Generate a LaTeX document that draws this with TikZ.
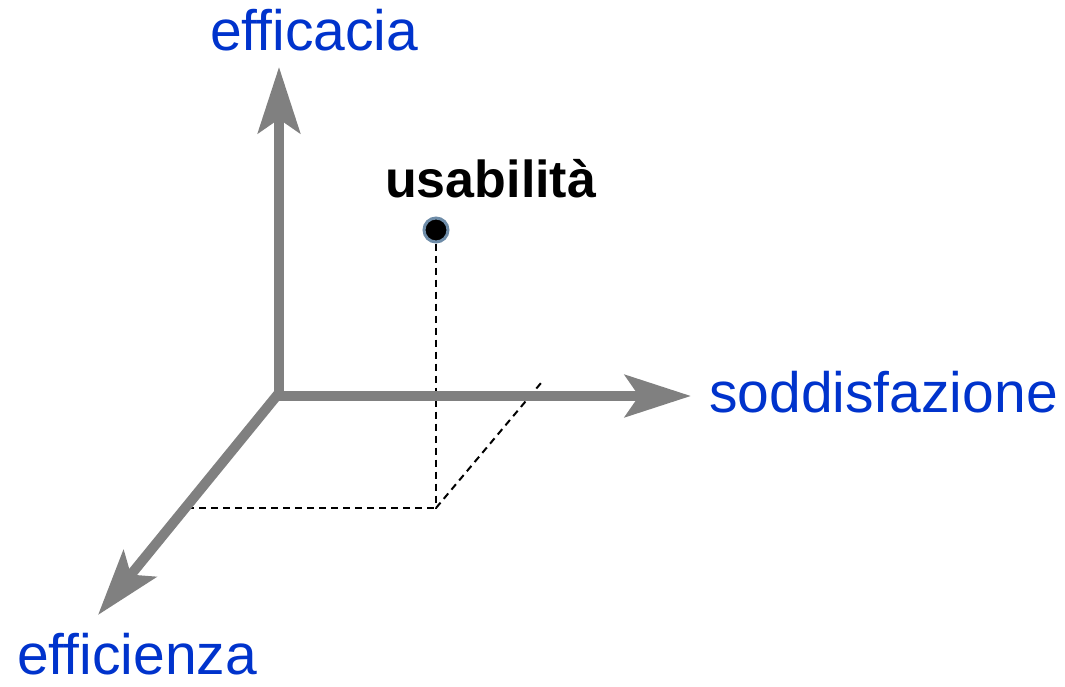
\documentclass[tikz,border=0pt]{standalone}
\usepackage{fontspec}
\setmainfont[Ligatures=CommonOff]{Liberation Sans}
\usetikzlibrary{arrows.meta}
\definecolor{axisgray}{HTML}{808080}
\definecolor{labelblue}{HTML}{0033CC}
\definecolor{ptborder}{HTML}{6E8CA8}
\tikzset{
  axis/.style={draw=axisgray, line width=10pt, -{Stealth[length=66pt, width=42pt, inset=14pt, fill=axisgray]}},
  guide/.style={draw=black, line width=2pt, dash pattern=on 7pt off 5pt},
  axlabel/.style={text=labelblue, inner sep=0pt, anchor=base west, font=\fontsize{57}{60}\selectfont},
  ptlabel/.style={text=black, inner sep=0pt, anchor=base west, font=\fontsize{52}{56}\selectfont\bfseries},
}
\begin{document}
\begin{tikzpicture}[x=1pt, y=-1pt]
\useasboundingbox (0,0) rectangle (1065,687);
% origin and axes ends
\coordinate (o) at (279,393);
\coordinate (oh) at (274,396);
\coordinate (ty) at (279,67);
\coordinate (tx) at (691,396);
\coordinate (tz) at (98,615);
% guide points
\coordinate (gz) at (187,508);
\coordinate (gb) at (436,508);
\coordinate (gx) at (541,383);
\node[circle, fill=black, draw=ptborder, line width=3pt, minimum size=24pt, inner sep=0pt] (p) at (436,230) {};
% dashed guides
\draw[guide] (p.south) -- (gb);
\draw[guide] (gz) -- (gb);
\draw[guide] (gb) -- (gx);
% axes
\draw[axis] (oh) -- (tx);
\draw[axis] (279,398) -- (ty);
\draw[axis] (o) -- (tz);
% labels
\node[axlabel] (le) at (210,51) {efficacia};
\node[axlabel] (ls) at (709,412) {soddisfazione};
\node[axlabel] (lf) at (17,674) {efficienza};
\node[ptlabel] (lu) at (385,197) {usabilità};
\end{tikzpicture}
\end{document}
